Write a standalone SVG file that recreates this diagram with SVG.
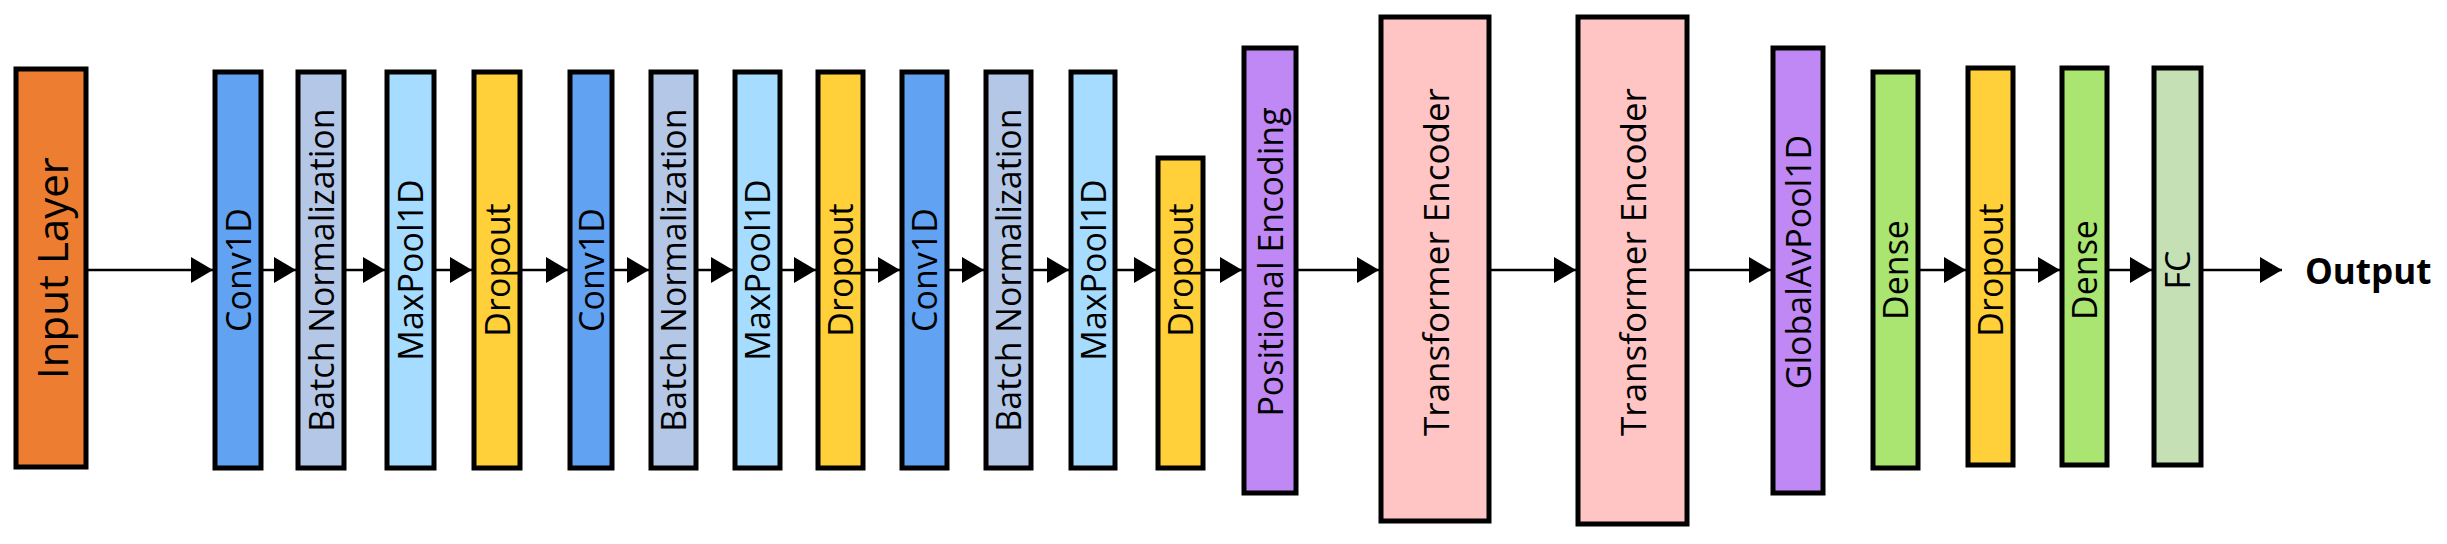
<svg xmlns="http://www.w3.org/2000/svg" width="2447" height="544" viewBox="0 0 2447 544">
<defs>
<style>
.b{stroke:#000;stroke-width:5}
.t{font-family:"Open Sans","Liberation Sans",Arial,sans-serif;font-size:34px;fill:#000;text-anchor:middle;dominant-baseline:central}
.c{stroke:#000;stroke-width:2.5;fill:none;marker-end:url(#ah)}
</style>
<marker id="ah" viewBox="0 0 10 10" refX="10" refY="5" markerWidth="22" markerHeight="26" markerUnits="userSpaceOnUse" orient="auto" preserveAspectRatio="none"><path d="M0,0L10,5L0,10z" fill="#000"/></marker>
</defs>
<rect width="2447" height="544" fill="#fff"/>
<g id="connectors">
<line class="c" x1="86" y1="270" x2="213" y2="270"/>
<line class="c" x1="261" y1="270" x2="296" y2="270"/>
<line class="c" x1="344" y1="270" x2="385" y2="270"/>
<line class="c" x1="434" y1="270" x2="472" y2="270"/>
<line class="c" x1="520" y1="270" x2="568" y2="270"/>
<line class="c" x1="612" y1="270" x2="649" y2="270"/>
<line class="c" x1="696" y1="270" x2="733" y2="270"/>
<line class="c" x1="780" y1="270" x2="816" y2="270"/>
<line class="c" x1="863" y1="270" x2="900" y2="270"/>
<line class="c" x1="947" y1="270" x2="984" y2="270"/>
<line class="c" x1="1031" y1="270" x2="1069" y2="270"/>
<line class="c" x1="1115" y1="270" x2="1156" y2="270"/>
<line class="c" x1="1203" y1="270" x2="1242" y2="270"/>
<line class="c" x1="1296" y1="270" x2="1379" y2="270"/>
<line class="c" x1="1489" y1="270" x2="1576" y2="270"/>
<line class="c" x1="1687" y1="270" x2="1771" y2="270"/>
<line class="c" x1="1918" y1="270" x2="1966" y2="270"/>
<line class="c" x1="2013" y1="270" x2="2060" y2="270"/>
<line class="c" x1="2107" y1="270" x2="2152" y2="270"/>
<line class="c" x1="2201" y1="270" x2="2282" y2="270"/>
</g>
<g id="n-input"><rect class="b" x="16" y="69" width="70" height="398" fill="#ED7D31"/><text class="t" style="font-size:42px" transform="translate(51,268) rotate(-90)">Input Layer</text></g>
<g id="n-conv1"><rect class="b" x="215" y="72" width="46" height="396" fill="#62A2F3"/><text class="t" transform="translate(238,270) rotate(-90)">Conv1D</text></g>
<g id="n-bn1"><rect class="b" x="298" y="72" width="46" height="396" fill="#B4C7E7"/><text class="t" transform="translate(321,270) rotate(-90)">Batch Normalization</text></g>
<g id="n-mp1"><rect class="b" x="387" y="72" width="47" height="396" fill="#A6DCFF"/><text class="t" transform="translate(410,270) rotate(-90)">MaxPool1D</text></g>
<g id="n-do1"><rect class="b" x="474" y="72" width="46" height="396" fill="#FFD03A"/><text class="t" transform="translate(497,270) rotate(-90)">Dropout</text></g>
<g id="n-conv2"><rect class="b" x="570" y="72" width="42" height="396" fill="#62A2F3"/><text class="t" transform="translate(591,270) rotate(-90)">Conv1D</text></g>
<g id="n-bn2"><rect class="b" x="651" y="72" width="45" height="396" fill="#B4C7E7"/><text class="t" transform="translate(673,270) rotate(-90)">Batch Normalization</text></g>
<g id="n-mp2"><rect class="b" x="735" y="72" width="45" height="396" fill="#A6DCFF"/><text class="t" transform="translate(757,270) rotate(-90)">MaxPool1D</text></g>
<g id="n-do2"><rect class="b" x="818" y="72" width="45" height="396" fill="#FFD03A"/><text class="t" transform="translate(840,270) rotate(-90)">Dropout</text></g>
<g id="n-conv3"><rect class="b" x="902" y="72" width="45" height="396" fill="#62A2F3"/><text class="t" transform="translate(924,270) rotate(-90)">Conv1D</text></g>
<g id="n-bn3"><rect class="b" x="986" y="72" width="45" height="396" fill="#B4C7E7"/><text class="t" transform="translate(1008,270) rotate(-90)">Batch Normalization</text></g>
<g id="n-mp3"><rect class="b" x="1071" y="72" width="44" height="396" fill="#A6DCFF"/><text class="t" transform="translate(1093,270) rotate(-90)">MaxPool1D</text></g>
<g id="n-do3"><rect class="b" x="1158" y="158" width="45" height="310" fill="#FFD03A"/><text class="t" transform="translate(1180,270) rotate(-90)">Dropout</text></g>
<g id="n-pe"><rect class="b" x="1244" y="48" width="52" height="445" fill="#C088F5"/><text class="t" transform="translate(1270,262) rotate(-90)">Positional Encoding</text></g>
<g id="n-te1"><rect class="b" x="1381" y="17" width="108" height="504" fill="#FFC4C4"/><text class="t" style="font-size:35px" transform="translate(1435,262) rotate(-90)">Transformer Encoder</text></g>
<g id="n-te2"><rect class="b" x="1578" y="17" width="109" height="507" fill="#FFC4C4"/><text class="t" style="font-size:35px" transform="translate(1632,262) rotate(-90)">Transformer Encoder</text></g>
<g id="n-gap"><rect class="b" x="1773" y="48" width="50" height="445" fill="#C088F5"/><text class="t" transform="translate(1798,262) rotate(-90)">GlobalAvPool1D</text></g>
<g id="n-dense1"><rect class="b" x="1873" y="72" width="45" height="396" fill="#A9E570"/><text class="t" transform="translate(1895,270) rotate(-90)">Dense</text></g>
<g id="n-do4"><rect class="b" x="1968" y="68" width="45" height="397" fill="#FFD03A"/><text class="t" transform="translate(1990,270) rotate(-90)">Dropout</text></g>
<g id="n-dense2"><rect class="b" x="2062" y="68" width="45" height="397" fill="#A9E570"/><text class="t" transform="translate(2084,270) rotate(-90)">Dense</text></g>
<g id="n-fc"><rect class="b" x="2154" y="68" width="47" height="397" fill="#C5E0B4"/><text class="t" transform="translate(2177,270) rotate(-90)">FC</text></g>
<g id="n-output"><text x="2305" y="270" style="font-family:'Open Sans','Liberation Sans',Arial,sans-serif;font-size:35px;font-weight:bold;dominant-baseline:central">Output</text></g>
</svg>
